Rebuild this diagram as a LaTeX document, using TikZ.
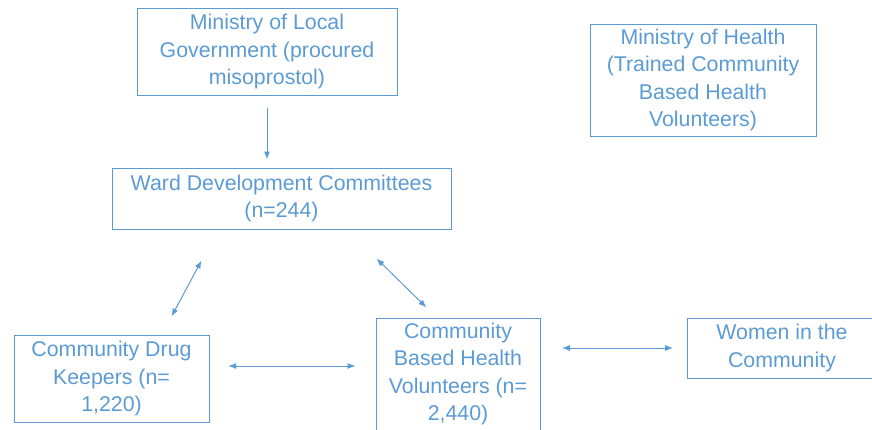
\documentclass[tikz,border=0pt]{standalone}
\usepackage{fontspec}
\setmainfont{Liberation Sans}
\usetikzlibrary{arrows.meta,positioning}
\definecolor{officeblue}{RGB}{91,155,213}

\begin{document}
\begin{tikzpicture}[x=0.75pt,y=-0.75pt,>={Latex[length=6pt,width=4.5pt]},
semithick,line width=0.75pt]
\tikzset{orgbox/.style={draw=officeblue,text=officeblue,align=center,
inner sep=0pt,font=\fontsize{16}{20.5}\selectfont},
link/.style={draw=officeblue,<->}}

\useasboundingbox (0,0) rectangle (872,429);

\node[orgbox,minimum width=260*0.75pt,minimum height=87*0.75pt]
(MinLocal) at (267,51.5) {Ministry of Local\\Government (procured\\misoprostol)};

\node[orgbox,minimum width=226*0.75pt,minimum height=112*0.75pt]
(MinHealth) at (703,80) {Ministry of Health\\(Trained Community\\Based Health\\Volunteers)};

\node[orgbox,minimum width=339*0.75pt,minimum height=61*0.75pt]
(Ward) at (281.5,198.5) {Ward Development Committees\\(n=244)};

\node[orgbox,minimum width=195*0.75pt,minimum height=87*0.75pt]
(DrugKeep) at (111.5,378.5) {Community Drug\\Keepers (n=\\1,220)};

\node[orgbox,minimum width=164*0.75pt,minimum height=112*0.75pt]
(Volunt) at (458,374) {Community\\Based Health\\Volunteers (n=\\2,440)};

\node[orgbox,minimum width=190*0.75pt,minimum height=60*0.75pt]
(Women) at (782,348) {Women in the\\Community};

\draw[officeblue,->,shorten <=9pt,shorten >=6pt] (MinLocal.south) -- (MinLocal.south |- Ward.north);

\draw[link] ([xshift=90*0.75pt,yshift=-31*0.75pt]Ward.south west)
-- ([xshift=158*0.75pt,yshift=18*0.75pt]DrugKeep.north west);

\draw[link] ([xshift=265*0.75pt,yshift=-29*0.75pt]Ward.south west)
-- ([xshift=51*0.75pt,yshift=10*0.75pt]Volunt.north west);

\draw[link,shorten <=14pt,shorten >=15pt] (DrugKeep.east |- 0,366) -- (Volunt.west |- 0,366);

\draw[link,shorten <=16pt,shorten >=10pt] (Volunt.east |- Women.west) -- (Women.west);

\end{tikzpicture}
\end{document}
